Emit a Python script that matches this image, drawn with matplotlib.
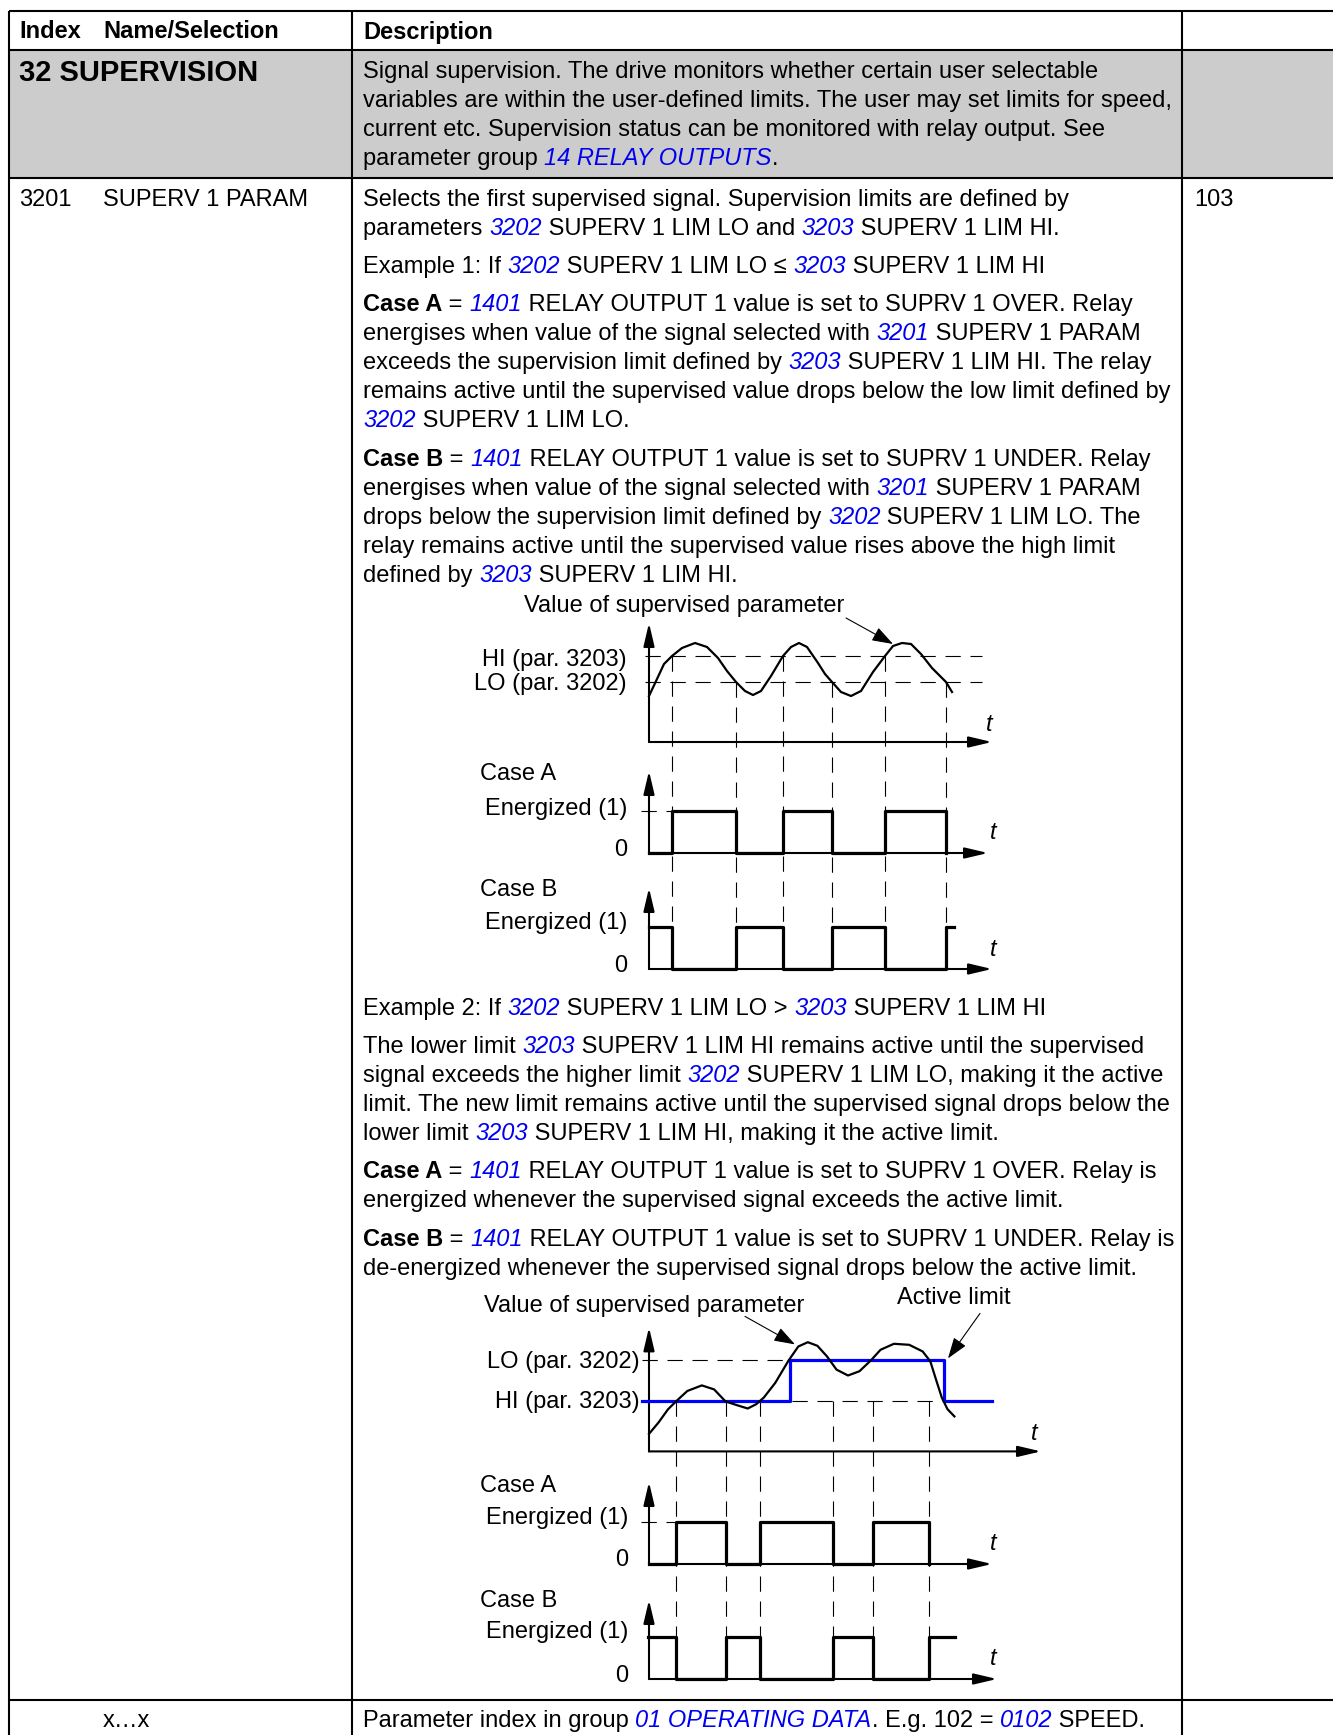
import re
import matplotlib
matplotlib.use('Agg')
import matplotlib.pyplot as plt

plt.rcParams['font.family'] = ['Liberation Sans', 'DejaVu Sans']
plt.rcParams['lines.scale_dashes'] = False

W, H = 1333, 1735
FS = 17.0
BLUE = '#0000f0'
GRAY = '#cccccc'
DASH = (0, (11, 7))

# ---------------- table text ----------------
hdr_index = 'Index'
hdr_name = 'Name/Selection'
hdr_desc = 'Description'

grp_title = '32 SUPERVISION'
grp_desc = [
    'Signal supervision. The drive monitors whether certain user selectable',
    'variables are within the user-defined limits. The user may set limits for speed,',
    'current etc. Supervision status can be monitored with relay output. See',
    'parameter group [14 RELAY OUTPUTS].',
]

par_index = '3201'
par_name = 'SUPERV 1 PARAM'
par_default = '103'

block1 = [
    ['Selects the first supervised signal. Supervision limits are defined by',
     'parameters [3202] SUPERV 1 LIM LO and [3203] SUPERV 1 LIM HI.'],
    ['Example 1: If [3202] SUPERV 1 LIM LO \u2264 [3203] SUPERV 1 LIM HI'],
    ['**Case A** = [1401] RELAY OUTPUT 1 value is set to SUPRV 1 OVER. Relay',
     'energises when value of the signal selected with [3201] SUPERV 1 PARAM',
     'exceeds the supervision limit defined by [3203] SUPERV 1 LIM HI. The relay',
     'remains active until the supervised value drops below the low limit defined by',
     '[3202] SUPERV 1 LIM LO.'],
    ['**Case B** = [1401] RELAY OUTPUT 1 value is set to SUPRV 1 UNDER. Relay',
     'energises when value of the signal selected with [3201] SUPERV 1 PARAM',
     'drops below the supervision limit defined by [3202] SUPERV 1 LIM LO. The',
     'relay remains active until the supervised value rises above the high limit',
     'defined by [3203] SUPERV 1 LIM HI.'],
]
block2 = [
    ['Example 2: If [3202] SUPERV 1 LIM LO > [3203] SUPERV 1 LIM HI'],
    ['The lower limit [3203] SUPERV 1 LIM HI remains active until the supervised',
     'signal exceeds the higher limit [3202] SUPERV 1 LIM LO, making it the active',
     'limit. The new limit remains active until the supervised signal drops below the',
     'lower limit [3203] SUPERV 1 LIM HI, making it the active limit.'],
    ['**Case A** = [1401] RELAY OUTPUT 1 value is set to SUPRV 1 OVER. Relay is',
     'energized whenever the supervised signal exceeds the active limit.'],
    ['**Case B** = [1401] RELAY OUTPUT 1 value is set to SUPRV 1 UNDER. Relay is',
     'de-energized whenever the supervised signal drops below the active limit.'],
]
last_name = 'x\u2026x'
last_desc = 'Parameter index in group [01 OPERATING DATA]. E.g. 102 = [0102] SPEED.'

# ---------------- diagram 1 data (Example 1) ----------------
sig1_t = [0, 8, 15, 23, 33, 46, 58, 69, 78, 87, 96, 104, 112, 122, 134, 142, 150,
          158, 169, 176, 183, 192, 202, 212, 224, 236, 244, 253, 262, 272, 283, 297, 303]
sig1_v = [46, 63, 78, 86, 94, 99, 95, 84, 71, 60, 51, 47, 51, 66, 86, 95, 99,
          95, 79, 68, 60, 50, 46, 51, 70, 86, 96, 99, 98, 88, 74, 60, 50]
hi1, lo1 = 86, 60
cross1_t = [23, 87, 134, 183, 236, 297]
cross1_v = [hi1, lo1, hi1, lo1, hi1, lo1]
caseA1_t = [0, 23, 87, 134, 183, 236, 297]
caseA1_s = [0, 1, 0, 1, 0, 1, 0]
caseB1_t = [0, 23, 87, 134, 183, 236, 297, 305]
caseB1_s = [1, 0, 1, 0, 1, 0, 1, 1]

# ---------------- diagram 2 data (Example 2) ----------------
sig2_t = [0, 9.6, 19.1, 26.8, 38.3, 52.8, 65.1, 76.5, 88, 98.7, 107.2, 114.8, 126.3,
          139.7, 149.3, 158.8, 168.4, 178, 187.5, 199, 210.5, 222, 231.5, 244.9,
          260.2, 273.6, 281.3, 287, 292.8, 298.5, 305.4]
sig2_v = [17.5, 29, 42.2, 49.8, 60.4, 66, 62, 50, 46.2, 42.9, 47.2, 53.8, 68.6,
          91.1, 104.9, 109.2, 105.6, 95, 81.8, 75.9, 80.2, 91.1, 101.6, 107.6,
          106.6, 100, 90.1, 71.9, 53.8, 42.2, 35]
hi2, lo2 = 50, 91
active_t = [-7, 141, 295, 343]
active_v = [hi2, lo2, hi2, hi2]
cross2_t = [26.8, 76.5, 110.8, 183.7, 223.9, 280.1]
caseA2_t = [0, 26.8, 76.5, 110.8, 183.7, 223.9, 280.1]
caseA2_s = [0, 1, 0, 1, 0, 1, 0]
caseB2_t = [-1, 26.8, 76.5, 110.8, 183.7, 223.9, 280.1, 306]
caseB2_s = [1, 0, 1, 0, 1, 0, 1, 1]

# ---------------- figure ----------------
fig = plt.figure(figsize=(W / 100, H / 100), dpi=100)
ax = fig.add_axes([0, 0, 1, 1])
ax.set_xlim(0, W)
ax.set_ylim(H, 0)
ax.axis('off')
rend = fig.canvas.get_renderer()

# table frame
ax.fill_between([9, W], 50, 178, color=GRAY, lw=0, zorder=0)
for y in [11, 50, 178, 1700]:
    ax.plot([9, W], [y, y], color='k', lw=1.5, solid_capstyle='butt')
for x in [9, 352, 1182]:
    ax.plot([x, x], [11, H], color='k', lw=1.5, solid_capstyle='butt')


def style(kind):
    if kind == 'b':
        return dict(fontweight='bold', color='k')
    if kind == 'l':
        return dict(fontstyle='italic', color=BLUE)
    return dict(color='k')


def advance(s, kw):
    a = ax.text(0, 0, s + '|', fontsize=FS, **kw)
    b = ax.text(0, 0, '|', fontsize=FS, **kw)
    w = a.get_window_extent(rend).width - b.get_window_extent(rend).width
    a.remove()
    b.remove()
    return w


def rich_line(x, y, markup):
    for tok in re.split(r'(\*\*.+?\*\*|\[.+?\])', markup):
        if not tok:
            continue
        if tok.startswith('**'):
            kind, s = 'b', tok[2:-2]
        elif tok.startswith('['):
            kind, s = 'l', tok[1:-1]
        else:
            kind, s = 'n', tok
        kw = style(kind)
        ax.text(x, y, s, fontsize=FS, va='baseline', ha='left', **kw)
        x += advance(s, kw)


def block(y0, paras, step=29.0, gap=9.2):
    y = y0
    for p in paras:
        for line in p:
            rich_line(363, y, line)
            y += step
        y += gap


ax.text(19, 38.5, hdr_index, fontsize=FS, fontweight='bold', va='baseline')
ax.text(103, 38.5, hdr_name, fontsize=FS, fontweight='bold', va='baseline')
ax.text(363, 38.5, hdr_desc, fontsize=FS, fontweight='bold', va='baseline')

ax.text(19, 81, grp_title, fontsize=21, fontweight='bold', va='baseline')
block(78, [grp_desc])

ax.text(19, 206, par_index, fontsize=FS, va='baseline')
ax.text(103, 206, par_name, fontsize=FS, va='baseline')
ax.text(1194, 206, par_default, fontsize=FS, va='baseline')
block(206, block1)
block(1015, block2)

ax.text(103, 1726.5, last_name, fontsize=FS, va='baseline')
rich_line(363, 1726.5, last_desc)


# ---------------- diagrams ----------------
def panel(ox, oy):
    L, R, B, A = 60, 460, 60, 160
    a = fig.add_axes([(ox - L) / W, 1 - (oy + B) / H, (L + R) / W, (A + B) / H])
    a.set_xlim(-L, R)
    a.set_ylim(-B, A)
    a.axis('off')
    a.patch.set_visible(False)
    return a


def arrow(a, p0, p1, hl=1.4, hw=0.33, lw=1.5):
    a.annotate('', xy=p1, xytext=p0,
               arrowprops=dict(arrowstyle='-|>,head_length=%g,head_width=%g' % (hl, hw),
                               color='k', lw=lw, shrinkA=0, shrinkB=0,
                               mutation_scale=10), annotation_clip=False)


def frame(a, top, tip):
    arrow(a, (0, 0), (0, top))
    arrow(a, (0, 0), (tip, 0))


def lbl(x, y, s, ha='right', **kw):
    ax.text(x, y, s, fontsize=FS, ha=ha, va='center', **kw)


# diagram 1
s1 = panel(649, 742)
a1 = panel(649, 853)
b1 = panel(649, 969)
frame(s1, 119, 343)
frame(a1, 82, 339)
frame(b1, 81, 343)
for lv in [hi1, lo1]:
    s1.plot([-4, 333], [lv, lv], color='k', lw=0.8, ls=DASH, clip_on=False)
for t, v in zip(cross1_t, cross1_v):
    s1.plot([t, t], [v, -(969 - 742)], color='k', lw=0.8, ls=DASH, clip_on=False, zorder=1)
s1.plot(sig1_t, sig1_v, color='k', lw=1.6, clip_on=False, solid_joinstyle='round')
a1.plot([-8, 23], [42, 42], color='k', lw=0.8, ls=DASH, clip_on=False)
a1.step(caseA1_t, [42 * s for s in caseA1_s], where='post', color='k', lw=2.3, clip_on=False)
b1.step(caseB1_t, [42 * s for s in caseB1_s], where='post', color='k', lw=2.3, clip_on=False)
arrow(s1, (197, 124), (244, 98), hl=1.3, hw=0.45, lw=0.8)

ax.text(684, 606, 'Value of supervised parameter', fontsize=FS, ha='center', va='center')
lbl(627, 659.5, 'HI (par. 3203)')
lbl(627, 684.4, 'LO (par. 3202)')
lbl(480, 774, 'Case A', ha='left')
lbl(627, 808.5, 'Energized (1)')
lbl(627, 850, '0')
lbl(480, 890, 'Case B', ha='left')
lbl(627, 923, 'Energized (1)')
lbl(627, 966, '0')
for x, y in [(989, 724), (993, 832), (993, 949)]:
    lbl(x, y, 't', ha='center', fontstyle='italic')

# diagram 2
s2 = panel(649, 1451.4)
a2 = panel(649, 1564)
b2 = panel(649, 1679)
frame(s2, 124, 392)
frame(a2, 82, 343)
frame(b2, 79, 348)
s2.plot([-7, 141], [lo2, lo2], color='k', lw=0.8, ls=DASH, clip_on=False)
s2.plot([-7, 343], [hi2, hi2], color='k', lw=0.8, ls=DASH, clip_on=False)
for t in cross2_t:
    s2.plot([t, t], [hi2, -(1679 - 1451.4)], color='k', lw=0.8, ls=DASH, clip_on=False, zorder=1)
s2.step(active_t, active_v, where='post', color='#0000ff', lw=2.3, clip_on=False, zorder=3)
s2.plot(sig2_t, sig2_v, color='k', lw=1.6, clip_on=False, solid_joinstyle='round', zorder=4)
a2.plot([-8, 27], [42, 42], color='k', lw=0.8, ls=DASH, clip_on=False)
a2.step(caseA2_t, [42 * s for s in caseA2_s], where='post', color='k', lw=2.3, clip_on=False)
b2.step(caseB2_t, [42 * s for s in caseB2_s], where='post', color='k', lw=2.3, clip_on=False)
arrow(s2, (96, 135), (146, 107), hl=1.3, hw=0.45, lw=0.8)
arrow(s2, (331, 138), (299, 93), hl=1.3, hw=0.45, lw=0.8)

ax.text(644, 1306, 'Value of supervised parameter', fontsize=FS, ha='center', va='center')
ax.text(954, 1298, 'Active limit', fontsize=FS, ha='center', va='center')
lbl(640, 1362, 'LO (par. 3202)')
lbl(640, 1401.6, 'HI (par. 3203)')
lbl(480, 1485.5, 'Case A', ha='left')
lbl(628, 1518, 'Energized (1)')
lbl(628, 1559.5, '0')
lbl(480, 1600.6, 'Case B', ha='left')
lbl(628, 1632, 'Energized (1)')
lbl(628, 1676, '0')
for x, y in [(1034, 1433), (993, 1543), (993, 1658)]:
    lbl(x, y, 't', ha='center', fontstyle='italic')

fig.savefig('out.png', dpi=100)
plt.close(fig)
